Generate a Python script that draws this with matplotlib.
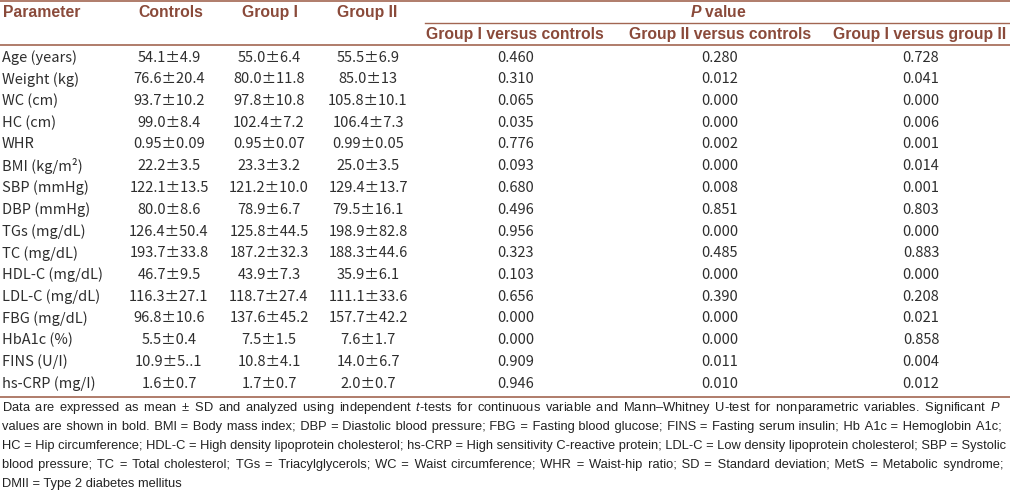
import matplotlib.pyplot as plt
from matplotlib.font_manager import FontProperties, findfont
from matplotlib.ft2font import FT2Font
from matplotlib.textpath import text_to_path

params = ['Age (years)', 'Weight (kg)', 'WC (cm)', 'HC (cm)', 'WHR',
          'BMI (kg/m²)', 'SBP (mmHg)', 'DBP (mmHg)', 'TGs (mg/dL)',
          'TC (mg/dL)', 'HDL-C (mg/dL)', 'LDL-C (mg/dL)', 'FBG (mg/dL)',
          'HbA1c (%)', 'FINS (U/I)', 'hs-CRP (mg/I)']
controls = ['54.1±4.9', '76.6±20.4', '93.7±10.2', '99.0±8.4', '0.95±0.09',
            '22.2±3.5', '122.1±13.5', '80.0±8.6', '126.4±50.4', '193.7±33.8',
            '46.7±9.5', '116.3±27.1', '96.8±10.6', '5.5±0.4', '10.9±5..1',
            '1.6±0.7']
group1 = ['55.0±6.4', '80.0±11.8', '97.8±10.8', '102.4±7.2', '0.95±0.07',
          '23.3±3.2', '121.2±10.0', '78.9±6.7', '125.8±44.5', '187.2±32.3',
          '43.9±7.3', '118.7±27.4', '137.6±45.2', '7.5±1.5', '10.8±4.1',
          '1.7±0.7']
group2 = ['55.5±6.9', '85.0±13', '105.8±10.1', '106.4±7.3', '0.99±0.05',
          '25.0±3.5', '129.4±13.7', '79.5±16.1', '198.9±82.8', '188.3±44.6',
          '35.9±6.1', '111.1±33.6', '157.7±42.2', '7.6±1.7', '14.0±6.7',
          '2.0±0.7']
p_g1_ctrl = ['0.460', '0.310', '0.065', '0.035', '0.776', '0.093', '0.680',
             '0.496', '0.956', '0.323', '0.103', '0.656', '0.000', '0.000',
             '0.909', '0.946']
p_g2_ctrl = ['0.280', '0.012', '0.000', '0.000', '0.002', '0.000', '0.008',
             '0.851', '0.000', '0.485', '0.000', '0.390', '0.000', '0.000',
             '0.011', '0.010']
p_g1_g2 = ['0.728', '0.041', '0.000', '0.006', '0.001', '0.014', '0.001',
           '0.803', '0.000', '0.883', '0.000', '0.208', '0.021', '0.858',
           '0.004', '0.012']

footnote = [
  "Data are expressed as mean ± SD and analyzed using independent $\\mathit{t}$-tests for continuous variable and Mann–Whitney U-test for nonparametric variables. Significant $\\mathit{P}$",
  "values are shown in bold. BMI = Body mass index; DBP = Diastolic blood pressure; FBG = Fasting blood glucose; FINS = Fasting serum insulin; Hb A1c = Hemoglobin A1c;",
  "HC = Hip circumference; HDL-C = High density lipoprotein cholesterol; hs-CRP = High sensitivity C-reactive protein; LDL-C = Low density lipoprotein cholesterol; SBP = Systolic",
  "blood pressure; TC = Total cholesterol; TGs = Triacylglycerols; WC = Waist circumference; WHR = Waist-hip ratio; SD = Standard deviation; MetS = Metabolic syndrome;",
  "DMII = Type 2 diabetes mellitus",
]

plt.rcParams['mathtext.fontset'] = 'custom'
plt.rcParams['mathtext.rm'] = 'Liberation Sans'
plt.rcParams['mathtext.it'] = 'Liberation Sans:italic'
plt.rcParams['mathtext.bf'] = 'Liberation Sans:bold:italic'

HEAD = '#8a4a3a'
LINE = '#a26652'
BODY = '#2e2e2e'
body_font = ['Noto Sans CJK JP', 'DejaVu Sans']
FN = 9.3
DPI = 100

fig = plt.figure(figsize=(10.1, 5.01), dpi=DPI)
ax = fig.add_axes([0, 0, 1, 1])
ax.set_xlim(0, 1010)
ax.set_ylim(501, 0)
ax.axis('off')

# rules
ax.plot([0, 1010], [1, 1], color=LINE, lw=1.2)
ax.plot([425, 1010], [23, 23], color=LINE, lw=1)
ax.plot([0, 1010], [45, 45], color=LINE, lw=1.2)
ax.plot([0, 1010], [397, 397], color=LINE, lw=1.2)

# header
hkw = dict(color=HEAD, fontweight='bold', fontsize=11.3,
           family='Liberation Sans', va='center')
ax.text(3, 12, 'Parameter', ha='left', **hkw)
ax.text(171, 12, 'Controls', ha='center', **hkw)
ax.text(270, 12, 'Group I', ha='center', **hkw)
ax.text(367, 12, 'Group II', ha='center', **hkw)
ax.text(718, 12, '$\\mathbf{P}$ value', ha='center', **hkw)
ax.text(515, 34, 'Group I versus controls', ha='center', **hkw)
ax.text(720, 34, 'Group II versus controls', ha='center', **hkw)
ax.text(920, 34, 'Group I versus group II', ha='center', **hkw)

# body rows
row_h = 21.75
cols = [(169, controls), (269, group1), (368, group2),
        (516, p_g1_ctrl), (720, p_g2_ctrl), (921, p_g1_g2)]
for i in range(len(params)):
  y = 57.5 + i * row_h
  kw = dict(color=BODY, fontsize=10.5, family=body_font, va='center')
  ax.text(2, y, params[i], ha='left', **kw)
  for x, vals in cols:
    ax.text(x, y, vals[i], ha='center', **kw)

fn_prop = FontProperties(family='Liberation Sans', size=FN)


def width_px(s):
  w, _, _ = text_to_path.get_text_width_height_descent(
    s, fn_prop, ismath='$' in s)
  return w * DPI / 72


# narrowest space glyph the footnote font has, used to pad word gaps
cmap = FT2Font(findfont(fn_prop)).get_charmap()
pad = next((c for c in '\u200a\u2009\u2006\u2005' if ord(c) in cmap), None)
pad_w = width_px('a' + pad + 'b') - width_px('ab') if pad else 0

# footnote, justified like the journal layout
x0, x1 = 2, 1003
for j, line in enumerate(footnote):
  text = line
  last = j == len(footnote) - 1
  if not last and pad_w > 0:
    gaps = line.split(' ')
    n_gap = len(gaps) - 1
    n_pad = max(0, round((x1 - x0 - width_px(line)) / pad_w))
    text = gaps[0]
    for g in range(n_gap):
      k = (g + 1) * n_pad // n_gap - g * n_pad // n_gap
      text += ' ' + pad * k + gaps[g + 1]
  ax.text(x0, 408 + j * 19, text, ha='left', va='center', color='#222222',
          fontsize=FN, family='Liberation Sans')

fig.savefig('out.png', dpi=DPI)
